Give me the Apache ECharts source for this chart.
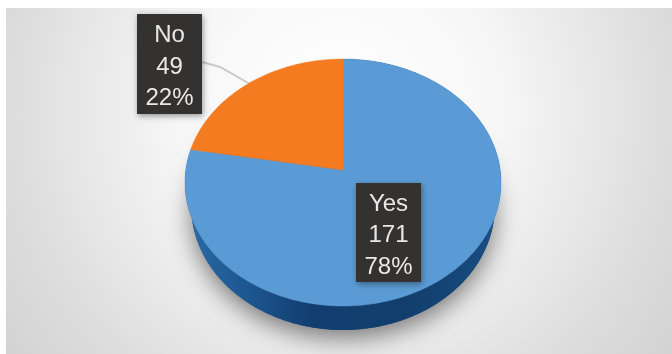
<!DOCTYPE html>
<html>
<head>
<meta charset="utf-8">
<style>html,body{margin:0;padding:0;background:#fff}#chart{width:672px;height:354px}</style>
<script src="https://cdn.jsdelivr.net/npm/echarts@6/dist/echarts.min.js"></script>
</head>
<body>
<div id="chart"></div>
<script>
const categories = ['Yes', 'No'];
const counts = [171, 49];
const percentLabels = ['78%', '22%'];
const sliceColors = ['#5B9BD5', '#F47B20'];

const total = counts.reduce((a, b) => a + b, 0);

// Tilted disc: a circle projected with perspective, so the far edge is compressed.
// The underside rim is slightly narrower, which makes the wall taper out at the sides.
const disc = { cx: 343, cy: 170, ax: 157.2, ay: 122.2, k: 0.1013, depth: 24, baseScale: 0.96 };
function project(theta) {
  const X = Math.sin(theta), Y = Math.cos(theta);
  const w = 1 + disc.k * Y;
  return [disc.cx + disc.ax * X / w, disc.cy - disc.ay * Y / w];
}
function arc(from, to) {
  const n = Math.max(2, Math.ceil(Math.abs(to - from) * 60));
  const pts = [];
  for (let i = 0; i <= n; i++) pts.push(project(from + (to - from) * i / n));
  return pts;
}
function underside(p) {
  return [disc.cx + (p[0] - disc.cx) * disc.baseScale, p[1] + disc.depth];
}

// Label boxes: left, top, width, height
const labelBoxes = [[356, 183, 65, 99], [137, 14, 65, 100]];

function renderSlice(params, api) {
  const i = params.dataIndex;
  let before = 0;
  for (let j = 0; j < i; j++) before += counts[j];
  const start = before / total * Math.PI * 2;
  const end = start + api.value(0) / total * Math.PI * 2;
  const rim = arc(start, end);
  const lower = rim.map(underside).reverse();
  const box = labelBoxes[i];
  const children = [];

  if (i === 0) {
    children.push({
      type: 'polygon', z2: 1,
      shape: { points: arc(0, Math.PI * 2).map(underside) },
      style: { fill: '#1b4c80', shadowBlur: 24, shadowOffsetY: 8, shadowColor: 'rgba(0,0,0,0.5)' }
    });
    children.push({
      type: 'polygon', z2: 2,
      shape: { points: rim.concat(lower) },
      style: {
        fill: new echarts.graphic.LinearGradient(0, 0, 1, 0, [
          { offset: 0, color: '#2A6BA6' },
          { offset: 0.2, color: '#1D5690' },
          { offset: 0.4, color: '#113E6E' },
          { offset: 0.72, color: '#113E6D' },
          { offset: 1, color: '#1B4E82' }
        ])
      }
    });
  } else {
    // Leader line from the box to the rim
    children.push({
      type: 'polyline', z2: 2,
      shape: { points: [[box[0] + box[2], 62], [220, 67], [250, 84]] },
      style: { stroke: '#C6CACC', lineWidth: 2, fill: null }
    });
  }
  children.push({
    type: 'polygon', z2: 3,
    shape: { points: [[disc.cx, disc.cy]].concat(rim) },
    style: { fill: sliceColors[i], stroke: sliceColors[i], lineWidth: 0.5 }
  });
  children.push({
    type: 'rect', z2: 5,
    shape: { x: box[0], y: box[1], width: box[2], height: box[3] },
    style: { fill: '#333231', shadowBlur: 6, shadowOffsetX: 1, shadowOffsetY: 2, shadowColor: 'rgba(0,0,0,0.4)' }
  });
  children.push({
    type: 'text', z2: 6,
    style: {
      x: box[0] + box[2] / 2, y: box[1] + box[3] / 2 + 3,
      text: [categories[i], api.value(0), percentLabels[i]].join('\n'),
      align: 'center', verticalAlign: 'middle',
      fill: '#E8E8E8', font: '24px "Liberation Sans", sans-serif', lineHeight: 31.5
    }
  });
  return { type: 'group', children };
}

const chart = echarts.init(document.getElementById('chart'));
chart.setOption({
  animation: false,
  backgroundColor: '#fff',
  graphic: [{
    type: 'rect', silent: true, z: -1,
    shape: { x: 6, y: 8, width: 666, height: 346 },
    style: {
      fill: new echarts.graphic.RadialGradient(0.5, 0.3, 1.2, [
        { offset: 0, color: '#FFFFFF' },
        { offset: 0.38, color: '#F7F7F7' },
        { offset: 0.8, color: '#DCDCDC' },
        { offset: 1, color: '#D2D2D2' }
      ])
    }
  }],
  series: [{
    type: 'custom',
    coordinateSystem: 'none',
    renderItem: renderSlice,
    data: counts.map(v => [v])
  }]
});
</script>
</body>
</html>
